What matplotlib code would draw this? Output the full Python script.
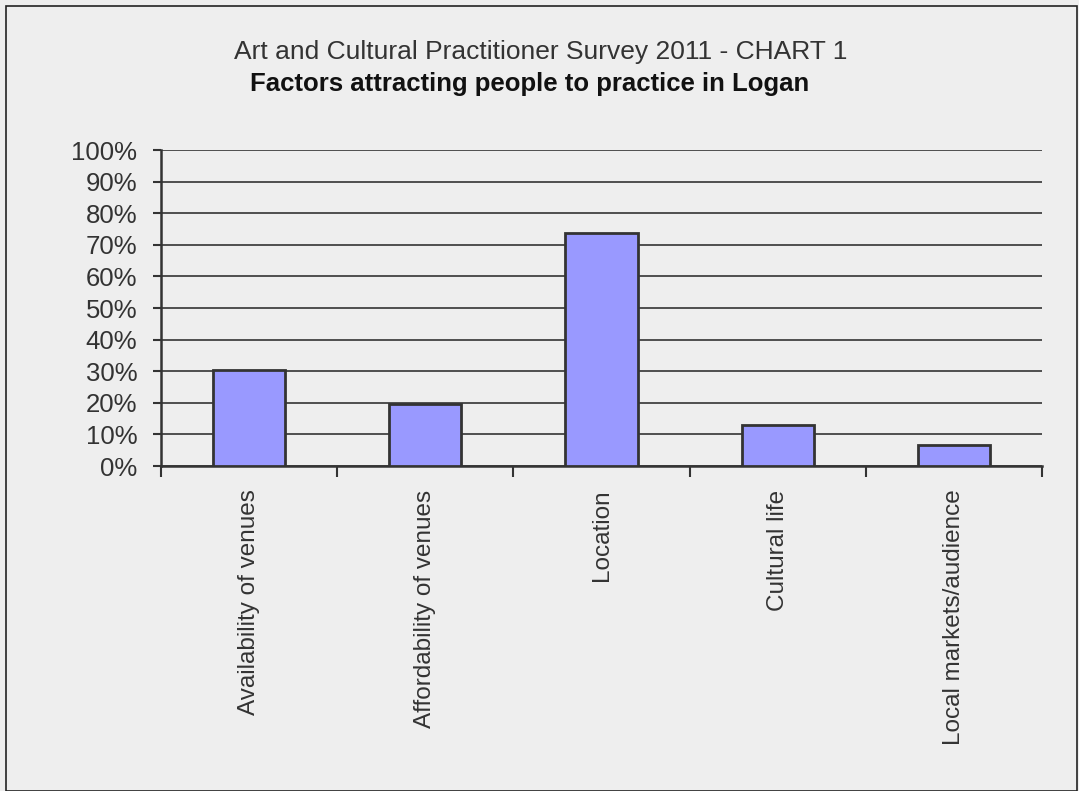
import matplotlib.pyplot as plt
from matplotlib.patches import Rectangle
from matplotlib.ticker import FixedLocator

plt.rcParams['font.family'] = ['Liberation Sans', 'DejaVu Sans']

categories = ['Availability of venues', 'Affordability of venues', 'Location',
              'Cultural life', 'Local markets/audience']
values = [30.3, 19.6, 73.8, 13.1, 6.5]
yticks = [0, 10, 20, 30, 40, 50, 60, 70, 80, 90, 100]

bg = '#eeeeee'
dark = '#333333'

fig = plt.figure(figsize=(10.79, 7.91), dpi=100, facecolor=bg)
ax = fig.add_axes([161 / 1079, 1 - 466 / 791, 881 / 1079, 316 / 791])
ax.set_facecolor(bg)

x = range(len(categories))
ax.bar(x, values, width=0.41, color='#9999ff', edgecolor=dark, linewidth=2, zorder=3)

ax.set_xlim(-0.5, len(categories) - 0.5)
ax.set_ylim(0, 100)
ax.set_yticks(yticks)
ax.set_yticklabels([f'{v}%' for v in yticks], fontsize=18.5, color=dark)
ax.yaxis.grid(True, color=dark, linewidth=1.2, zorder=1)

ax.set_xticks(list(x))
ax.set_xticklabels(categories, rotation=90, fontsize=17.5, color=dark, va='top')
ax.tick_params(axis='x', length=0, pad=17)
ax.xaxis.set_minor_locator(FixedLocator([i - 0.5 for i in range(len(categories) + 1)]))
ax.tick_params(axis='x', which='minor', length=8, width=1.5, color=dark)
ax.tick_params(axis='y', length=6, width=1.5, color=dark, pad=11)

for s in ['top', 'right']:
    ax.spines[s].set_visible(False)
for s in ['left', 'bottom']:
    ax.spines[s].set_color(dark)
    ax.spines[s].set_linewidth(1.8)

fig.text(541 / 1079, 1 - 52 / 791, 'Art and Cultural Practitioner Survey 2011 - CHART 1',
         ha='center', va='center', fontsize=19, color=dark)
fig.text(530 / 1079, 1 - 84 / 791, 'Factors attracting people to practice in Logan',
         ha='center', va='center', fontsize=18.5, fontweight='bold', color='#111111')

fig.add_artist(Rectangle((6 / 1079, 0), 1071 / 1079, 785 / 791, transform=fig.transFigure,
                         fill=False, edgecolor='#222222', linewidth=1.2))

fig.savefig('out.png', dpi=100, facecolor=bg)
